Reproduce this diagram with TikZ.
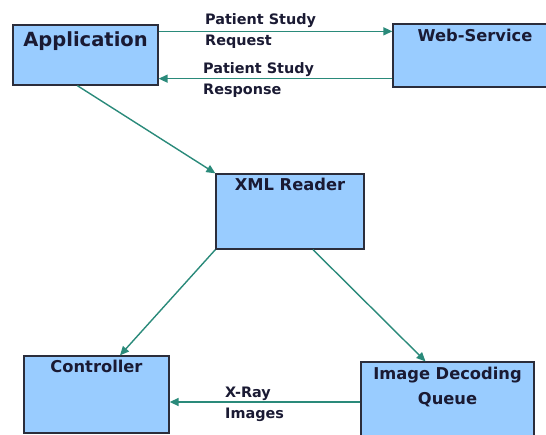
\documentclass[tikz,border=0pt]{standalone}
\usepackage{fontspec}
\setmainfont{DejaVu Sans}
\usetikzlibrary{arrows.meta}
\definecolor{boxblue}{HTML}{99CCFF}
\definecolor{boxline}{HTML}{2B2D3B}
\definecolor{flowteal}{HTML}{2A8A7A}
\definecolor{inkdark}{HTML}{1A1A33}
\begin{document}
\begin{tikzpicture}[x=1pt, y=-1pt,
    box/.style={draw=boxline, fill=boxblue, line width=1.3pt, inner sep=0pt},
    title/.style={anchor=base, text=inkdark, font=\fontsize{16.3}{25}\selectfont\bfseries, align=center, inner sep=0pt},
    lbl/.style={anchor=base west, text=inkdark, font=\fontsize{14.4}{20.5}\selectfont\bfseries, align=left, inner sep=0pt},
    flow/.style={draw=flowteal, line width=1.4pt, -{Triangle[length=9pt, width=8pt]}}]
    \clip (0,0) rectangle (546,434);
    \node[box, minimum width=145pt, minimum height=60pt] (app) at (85.5,55) {};
    \node[box, minimum width=164pt, minimum height=63pt] (ws) at (475,55.5) {};
    \node[box, minimum width=148pt, minimum height=75pt] (xml) at (290,211.5) {};
    \node[box, minimum width=145pt, minimum height=77pt] (ctrl) at (96.5,394.5) {};
    \node[box, minimum width=173pt, minimum height=78pt] (idq) at (447.5,401) {};
    % titles sit near the top edge of each box
    \node[title, font=\fontsize{19.5}{24}\selectfont\bfseries] (apptxt) at ([yshift=-22pt]app.north) {Application};
    \node[title] (wstxt) at ([yshift=-18pt]ws.north) {Web-Service};
    \node[title] (xmltxt) at ([yshift=-17pt]xml.north) {XML Reader};
    \node[title] (ctrltxt) at ([yshift=-17pt]ctrl.north) {Controller};
    \node[title] (idqtxt) at ([yshift=-43pt]idq.north) {Image Decoding\\Queue};
    \node[lbl] (req) at (205,45) {Patient Study\\Request};
    \node[lbl] (resp) at (203,94) {Patient Study\\Response};
    \node[lbl] (xray) at (225,418) {X-Ray\\Images};
    \draw[flow] ([yshift=-7pt]app.north east) -- ([yshift=-8pt]ws.north west);
    \draw[flow] ([yshift=9pt]ws.south west) -- ([yshift=7pt]app.south east);
    \draw[flow] ([xshift=65pt]app.south west) -- (xml.north west);
    \draw[flow] (xml.south west) -- ([xshift=23.5pt]ctrl.north);
    \draw[flow] ([xshift=23pt]xml.south) -- ([xshift=-22pt]idq.north);
    \draw[flow] ([yshift=-1pt]idq.west) -- ([yshift=-7.5pt]ctrl.east);
  \end{tikzpicture}
\end{document}
